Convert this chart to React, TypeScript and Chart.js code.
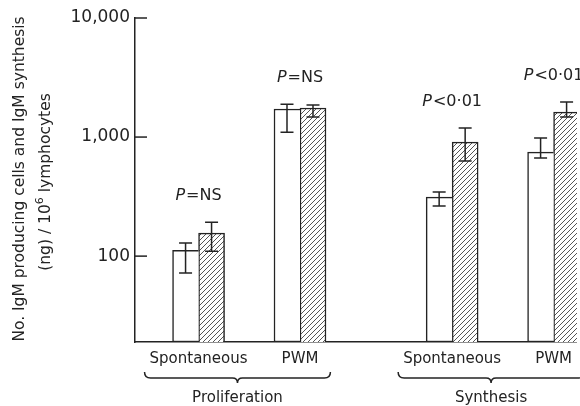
import React, { useEffect, useRef } from 'react';
import { Chart, registerables } from 'chart.js';

Chart.register(...registerables);

// ---- data ----
const categories = ['Spontaneous', 'PWM', 'Spontaneous', 'PWM'];
const majorGroups = ['Proliferation', 'Synthesis'];
const majorOf = [0, 0, 1, 1];
const openValues = [112, 1720, 313, 748];
const openErrLow = [72, 1100, 263, 667];
const openErrHigh = [129, 1890, 345, 981];
const hatchedValues = [156, 1755, 907, 1622];
const hatchedErrLow = [110, 1472, 628, 1472];
const hatchedErrHigh = [193, 1857, 1191, 1968];
const pRest = ['=NS', '=NS', '<0·01', '<0·01'];
const yTicks = [100, 1000, 10000];
const yTitle1 = 'No. IgM producing cells and IgM synthesis';
const yTitle2a = '(ng) / 10';
const yTitle2sup = '6';
const yTitle2b = ' lymphocytes';

// ---- layout / style ----
const W = 580;
const H = 406;
const INK = '#232323';
const FONT = '"DejaVu Sans", sans-serif';
const AXIS_LEFT = 135;
const AXIS_TOP = 18;
const AXIS_BOTTOM = 342;
const UNIT = 51.07; // pixels per slot
const FIRST_CENTER = 64; // px from axis to first group centre
const pos = categories.map((_, i) => majorOf[i] * 5 + (i % 2) * 2);
const xMin = -FIRST_CENTER / UNIT;
const xMax = xMin + (W - AXIS_LEFT) / UNIT;

function makeHatch(ctx: CanvasRenderingContext2D) {
  const s = 5;
  const c = document.createElement('canvas');
  c.width = s;
  c.height = s;
  const g = c.getContext('2d')!;
  g.fillStyle = '#fff';
  g.fillRect(0, 0, s, s);
  g.strokeStyle = '#555';
  g.lineWidth = 1;
  g.beginPath();
  g.moveTo(0, s);
  g.lineTo(s, 0);
  g.moveTo(-1, 1);
  g.lineTo(1, -1);
  g.moveTo(s - 1, s + 1);
  g.lineTo(s + 1, s - 1);
  g.stroke();
  return ctx.createPattern(c, 'repeat')!;
}

const overlay = {
  id: 'overlay',
  afterDatasetsDraw(chart: any) {
    const ctx: CanvasRenderingContext2D = chart.ctx;
    const ys = chart.scales.y;
    const xs = chart.scales.x;
    ctx.save();
    ctx.strokeStyle = INK;
    ctx.lineWidth = 1.5;
    // error bars
    const errs = [
      [openErrLow, openErrHigh],
      [hatchedErrLow, hatchedErrHigh],
    ];
    errs.forEach(([lo, hi], di) => {
      const meta = chart.getDatasetMeta(di);
      meta.data.forEach((el: any, i: number) => {
        const x = el.x;
        const y1 = ys.getPixelForValue(lo[i]);
        const y2 = ys.getPixelForValue(hi[i]);
        ctx.beginPath();
        ctx.moveTo(x, y1);
        ctx.lineTo(x, y2);
        ctx.moveTo(x - 6.5, y1);
        ctx.lineTo(x + 6.5, y1);
        ctx.moveTo(x - 6.5, y2);
        ctx.lineTo(x + 6.5, y2);
        ctx.stroke();
      });
    });
    // inward y ticks
    yTicks.forEach((v) => {
      const y = ys.getPixelForValue(v);
      ctx.beginPath();
      ctx.moveTo(chart.chartArea.left, y);
      ctx.lineTo(chart.chartArea.left + 12, y);
      ctx.stroke();
    });
    // P labels
    ctx.fillStyle = INK;
    ctx.textBaseline = 'middle';
    ctx.textAlign = 'left';
    categories.forEach((_, i) => {
      const cx = xs.getPixelForValue(pos[i]);
      const top = Math.max(openErrHigh[i], hatchedErrHigh[i]);
      const y = ys.getPixelForValue(top) - 26;
      ctx.font = `italic 16px ${FONT}`;
      const wP = ctx.measureText('P').width;
      ctx.font = `16px ${FONT}`;
      const wR = ctx.measureText(pRest[i]).width;
      const x0 = cx - (wP + wR + 1) / 2;
      ctx.font = `italic 16px ${FONT}`;
      ctx.fillText('P', x0, y);
      ctx.font = `16px ${FONT}`;
      ctx.fillText(pRest[i], x0 + wP + 1, y);
    });
    // braces and major group labels
    ctx.font = `15px ${FONT}`;
    majorGroups.forEach((name, g) => {
      let left = Infinity;
      let right = -Infinity;
      categories.forEach((c, i) => {
        if (majorOf[i] !== g) return;
        const cx = xs.getPixelForValue(pos[i]);
        const w = ctx.measureText(c).width;
        left = Math.min(left, cx - w / 2 - 5);
        right = Math.max(right, cx + w / 2 + 12);
      });
      const mid = (left + right) / 2;
      const by = 378;
      ctx.beginPath();
      ctx.moveTo(left, by - 6);
      ctx.quadraticCurveTo(left, by, left + 6, by);
      ctx.lineTo(mid - 5, by);
      ctx.quadraticCurveTo(mid, by, mid, by + 5);
      ctx.quadraticCurveTo(mid, by, mid + 5, by);
      ctx.lineTo(right - 6, by);
      ctx.quadraticCurveTo(right, by, right, by - 6);
      ctx.stroke();
      ctx.textAlign = 'center';
      ctx.fillText(name, mid, 398);
    });
    // y title
    ctx.font = `15.5px ${FONT}`;
    ctx.save();
    ctx.translate(20, 179);
    ctx.rotate(-Math.PI / 2);
    ctx.textAlign = 'center';
    ctx.fillText(yTitle1, 0, 0);
    ctx.restore();
    ctx.save();
    ctx.translate(46, 182);
    ctx.rotate(-Math.PI / 2);
    ctx.textAlign = 'left';
    const wa = ctx.measureText(yTitle2a).width;
    const wb = ctx.measureText(yTitle2b).width;
    ctx.font = `11px ${FONT}`;
    const ws = ctx.measureText(yTitle2sup).width;
    const total = wa + ws + wb;
    let x = -total / 2;
    ctx.font = `15.5px ${FONT}`;
    ctx.fillText(yTitle2a, x, 0);
    x += wa;
    ctx.font = `11px ${FONT}`;
    ctx.fillText(yTitle2sup, x, -6);
    x += ws;
    ctx.font = `15.5px ${FONT}`;
    ctx.fillText(yTitle2b, x, 0);
    ctx.restore();
    ctx.restore();
  },
};

export default function App() {
  const ref = useRef<HTMLCanvasElement>(null);
  useEffect(() => {
    document.body.style.margin = '0';
    document.body.style.overflow = 'hidden';
    const canvas = ref.current!;
    const ctx = canvas.getContext('2d')!;
    const hatch = makeHatch(ctx);
    const chart = new Chart(canvas, {
      type: 'bar',
      data: {
        datasets: [
          {
            label: 'open',
            data: pos.map((x, i) => ({ x, y: openValues[i] })),
            backgroundColor: '#ffffff',
            borderColor: INK,
            borderWidth: 1.5,
            borderSkipped: 'right',
            barThickness: 26,
          },
          {
            label: 'hatched',
            data: pos.map((x, i) => ({ x, y: hatchedValues[i] })),
            backgroundColor: hatch,
            borderColor: INK,
            borderWidth: 1.5,
            borderSkipped: 'bottom',
            barThickness: 26,
          },
        ] as any,
      },
      options: {
        responsive: false,
        animation: false,
        devicePixelRatio: 1,
        layout: { padding: { top: AXIS_TOP, left: 0, right: 0, bottom: 0 } },
        plugins: {
          legend: { display: false },
          tooltip: { enabled: false },
        },
        scales: {
          x: {
            type: 'linear',
            min: xMin,
            max: xMax,
            offset: false,
            grid: { offset: false, drawOnChartArea: false, drawTicks: false },
            border: { display: true, color: INK, width: 1.5 },
            afterBuildTicks: (s: any) => {
              s.ticks = pos.map((v) => ({ value: v }));
            },
            afterFit: (s: any) => {
              s.height = H - AXIS_BOTTOM;
            },
            ticks: {
              autoSkip: false,
              maxRotation: 0,
              padding: 8,
              color: INK,
              font: { family: FONT, size: 15 },
              callback: (_v: any, i: number) => categories[i],
            },
          },
          y: {
            type: 'logarithmic',
            min: 19,
            max: 10000,
            grid: { drawOnChartArea: false, drawTicks: false },
            border: { display: true, color: INK, width: 1.5 },
            afterBuildTicks: (s: any) => {
              s.ticks = yTicks.map((v) => ({ value: v }));
            },
            afterFit: (s: any) => {
              s.width = AXIS_LEFT;
            },
            ticks: {
              padding: 5,
              color: INK,
              font: { family: FONT, size: 17 },
              callback: (v: any) => Number(v).toLocaleString('en-US'),
            },
          },
        },
      } as any,
      plugins: [overlay],
    });
    return () => chart.destroy();
  }, []);
  return <canvas ref={ref} width={W} height={H} style={{ display: 'block' }} />;
}
